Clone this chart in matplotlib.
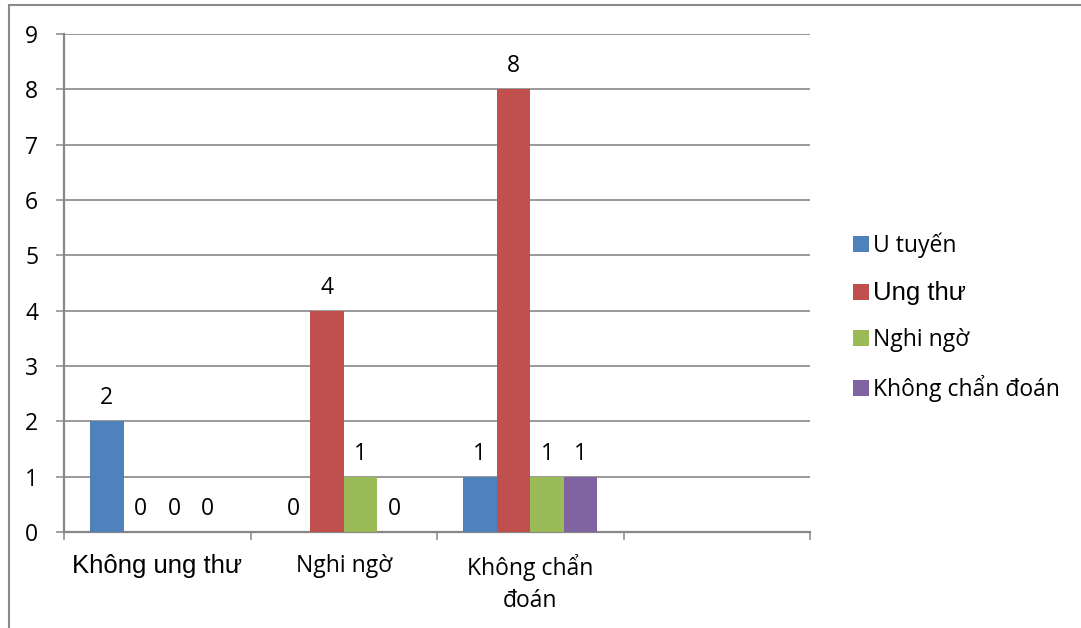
import matplotlib
matplotlib.use("Agg")
import matplotlib.pyplot as plt
from matplotlib.patches import Patch, Rectangle
import numpy as np

categories = ["Không ung thư", "Nghi ngờ", "Không chẩn\nđoán", ""]
series_names = ["U tuyến", "Ung thư", "Nghi ngờ", "Không chẩn đoán"]
u_tuyen = [2, 0, 1, None]
ung_thu = [0, 4, 8, None]
nghi_ngo = [0, 1, 1, None]
khong_chan_doan = [0, 0, 1, None]
series_values = [u_tuyen, ung_thu, nghi_ngo, khong_chan_doan]
colors = ["#4F81BD", "#C0504D", "#9BBB59", "#8064A2"]
y_ticks = list(range(0, 10))

W, H = 1081, 628
fig = plt.figure(figsize=(W / 100, H / 100), dpi=100)
fig.patch.set_facecolor("white")

calibri_like = ["Open Sans", "DejaVu Sans"]
arial_like = ["Liberation Sans", "DejaVu Sans"]
grid_col = "#878787"
fs = 16.5

left, right, top, bottom = 64, 810, 34, 532
ax = fig.add_axes([left / W, 1 - bottom / H, (right - left) / W, (bottom - top) / H])

x = np.arange(len(categories))
bar_w = 0.18
for k, (vals, col) in enumerate(zip(series_values, colors)):
    offs = (k - 1.5) * bar_w
    for i, v in enumerate(vals):
        if v is None:
            continue
        ax.bar(x[i] + offs, v, width=bar_w, color=col, zorder=3)
        ax.annotate(str(v), (x[i] + offs, v), xytext=(0, 8), textcoords="offset points",
                    ha="center", va="bottom", fontsize=fs, family=calibri_like, color="black")

ax.set_xlim(-0.5, len(categories) - 0.5)
ax.set_ylim(0, 9)
ax.set_yticks(y_ticks)
ax.set_yticklabels([str(t) for t in y_ticks], family=calibri_like, fontsize=fs)
ax.yaxis.grid(True, color=grid_col, linewidth=1.2, zorder=0)
ax.set_axisbelow(True)
ax.tick_params(axis="y", length=5.5, width=1.1, color=grid_col, pad=13)

ax.set_xticks(x)
ax.set_xticklabels(categories)
ax.set_xticks(np.arange(-0.5, len(categories)), minor=True)
ax.tick_params(axis="x", which="major", length=0, pad=16)
ax.tick_params(axis="x", which="minor", length=5.5, width=1.1, color=grid_col)
for i, lab in enumerate(ax.get_xticklabels()):
    if i == 0:
        lab.set_family(arial_like)
        lab.set_fontsize(18.5)
    else:
        lab.set_family(calibri_like)
        lab.set_fontsize(fs)
    lab.set_va("top")
    lab.set_linespacing(1.45)

for s in ["top", "right"]:
    ax.spines[s].set_visible(False)
for s in ["left", "bottom"]:
    ax.spines[s].set_color(grid_col)
    ax.spines[s].set_linewidth(1.6)

handles = [Patch(facecolor=c, edgecolor="none") for c in colors]
leg = fig.legend(handles, series_names, loc="center left",
                 bbox_to_anchor=(832 / W, 1 - 317 / H), frameon=False,
                 handlelength=0.7, handleheight=0.7, handletextpad=0.2,
                 labelspacing=1.0, prop={"family": calibri_like, "size": fs})
for i, t in enumerate(leg.get_texts()):
    if i == 1:
        t.set_family(arial_like)
        t.set_fontsize(18.5)

fig.add_artist(Rectangle((8.5 / W, -0.1), 2, 1.1 - 5.5 / H, transform=fig.transFigure,
                         fill=False, edgecolor="#8a8a8a", linewidth=1.5))

fig.savefig("out.png", dpi=100)
